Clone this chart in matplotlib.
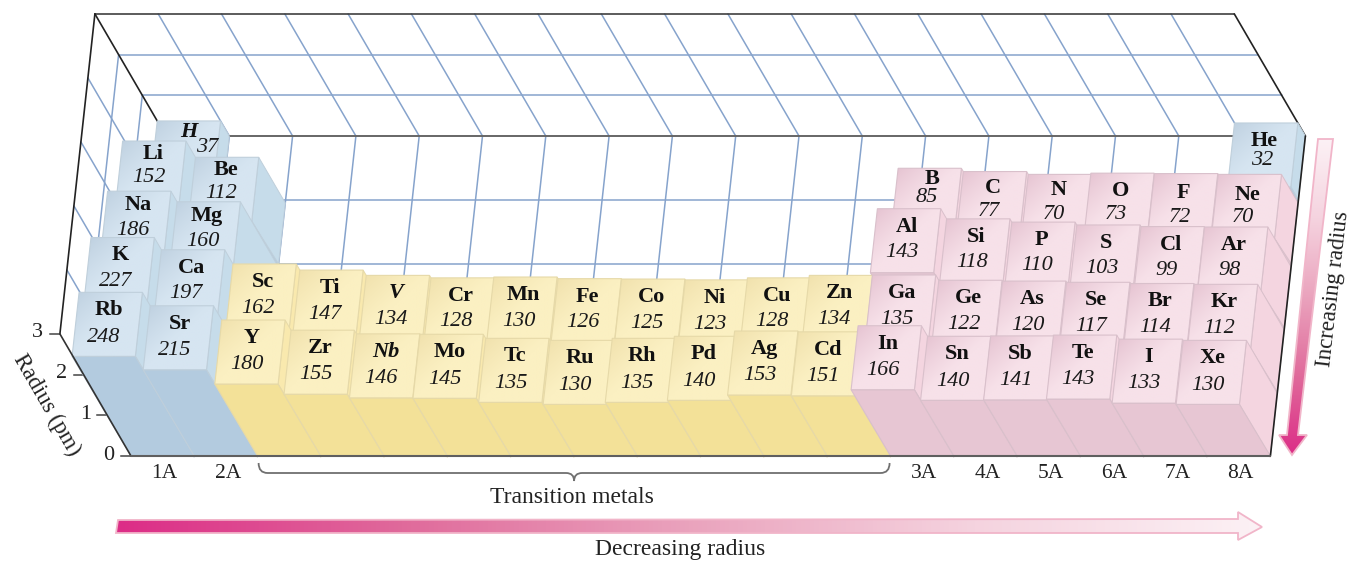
import numpy as np
import matplotlib
matplotlib.use("Agg")
import matplotlib.pyplot as plt
from matplotlib.colors import LinearSegmentedColormap, to_rgb
from matplotlib.patches import Polygon, PathPatch
from matplotlib.path import Path

# ---------- data ----------
group_labels = ['1A', '2A', '3A', '4A', '5A', '6A', '7A', '8A']
group_columns = [0, 1, 12, 13, 14, 15, 16, 17]
radius_ticks = [0, 1, 2, 3]

period1_symbols = ['H', 'He']
period1_columns = [0, 17]
period1_radii = [37, 32]

period2_symbols = ['Li', 'Be', 'B', 'C', 'N', 'O', 'F', 'Ne']
period2_columns = [0, 1, 12, 13, 14, 15, 16, 17]
period2_radii = [152, 112, 85, 77, 70, 73, 72, 70]

period3_symbols = ['Na', 'Mg', 'Al', 'Si', 'P', 'S', 'Cl', 'Ar']
period3_columns = [0, 1, 12, 13, 14, 15, 16, 17]
period3_radii = [186, 160, 143, 118, 110, 103, 99, 98]

period4_symbols = ['K', 'Ca', 'Sc', 'Ti', 'V', 'Cr', 'Mn', 'Fe', 'Co', 'Ni', 'Cu', 'Zn',
                   'Ga', 'Ge', 'As', 'Se', 'Br', 'Kr']
period4_radii = [227, 197, 162, 147, 134, 128, 130, 126, 125, 123, 128, 134,
                 135, 122, 120, 117, 114, 112]

period5_symbols = ['Rb', 'Sr', 'Y', 'Zr', 'Nb', 'Mo', 'Tc', 'Ru', 'Rh', 'Pd', 'Ag', 'Cd',
                   'In', 'Sn', 'Sb', 'Te', 'I', 'Xe']
period5_radii = [248, 215, 180, 155, 146, 145, 135, 130, 135, 140, 153, 151,
                 166, 140, 141, 143, 133, 130]

periods = [
    (period1_symbols, period1_columns, period1_radii),
    (period2_symbols, period2_columns, period2_radii),
    (period3_symbols, period3_columns, period3_radii),
    (period4_symbols, list(range(18)), period4_radii),
    (period5_symbols, list(range(18)), period5_radii),
]
italic_symbols = {'H', 'V', 'Nb'}

# ---------- projection: column, row, radius (in 100 pm) -> picture ----------
ORIGIN = np.array([131.0, 456.0])
COL = np.array([63.3, 0.0])
ROW = np.array([-7.0, 64.0])
RAD = np.array([-23.7, -40.7])
NCOL, NROW, RMAX = 18, 5, 3

row_shift = [0.0, 0.045, 0.045, 0.03, 0.02]     # blocks sit a little lower than the grid
symbol_v = [0.17, 0.20, 0.22, 0.28, 0.28]
value_v = [0.50, 0.57, 0.62, 0.69, 0.70]
pink_extra = [0.0, 0.05, 0.06, 0.0, 0.0]
label_override = {
    'H': ((0.52, 0.17), (0.83, 0.42)),
    'He': ((0.50, 0.28), (0.50, 0.58)),
    'B': ((0.55, 0.16), (0.50, 0.45)),
    'O': ((0.50, 0.28), (0.47, 0.65)),
    'F': ((0.50, 0.31), (0.47, 0.68)),
    'Ne': ((0.50, 0.325), (0.47, 0.68)),
}


def P(c, r, h=0.0):
    return ORIGIN + c * COL + (r - NROW) * ROW + h * RAD


plt.rcParams['font.family'] = ['Liberation Serif', 'DejaVu Serif']
fig = plt.figure(figsize=(13.52, 5.61), dpi=100)
ax = fig.add_axes([0, 0, 1, 1])
ax.set_xlim(0, 1352)
ax.set_ylim(561, 0)
ax.axis('off')

GRID = '#86a3cc'
FRAME = '#3f3f3f'


def line(a, b, color=GRID, lw=1.1, z=2):
    ax.plot([a[0], b[0]], [a[1], b[1]], color=color, lw=lw, zorder=z, solid_capstyle='round')


# grid on back wall, floor, left wall
for c in range(1, NCOL):
    line(P(c, 0, RMAX), P(c, 0, 0))
    line(P(c, 0, 0), P(c, NROW, 0))
for h in (1, 2):
    line(P(0, 0, h), P(NCOL, 0, h))
    line(P(0, 0, h), P(0, NROW, h))
for r in range(1, NROW):
    line(P(0, r, 0), P(NCOL, r, 0))
    line(P(0, r, RMAX), P(0, r, 0))

# frame
line(P(0, 0, RMAX), P(NCOL, 0, RMAX), FRAME, 1.2, 3)
line(P(0, 0, RMAX), P(0, NROW, RMAX), '#222222', 1.2, 3)
line(P(0, 0, RMAX), P(0, 0, 0), '#222222', 1.2, 3)
line(P(0, 0, 0), P(NCOL, 0, 0), '#666666', 1.4, 3)
line(P(NCOL, 0, RMAX), P(NCOL, 0, 0), '#222222', 1.2, 3)

# colours: (face dark corner, face light, side, front, edge)
BLUE = ('#bccede', '#d6e5f1', '#c6dcea', '#b3cbdf', '#bfcfdb')
YELLOW = ('#efdfaa', '#fbf0c2', '#f9e9ae', '#f3e198', '#e6d9a8')
PINK = ('#e3bfce', '#f7e1e9', '#f4d5e0', '#e7c6d3', '#d9c0cb')


def palette(sym, c):
    if c < 2 or sym == 'He':
        return BLUE
    return YELLOW if c < 12 else PINK


def gradient_face(pts, dark, light, z):
    poly = Polygon(pts, closed=True, transform=ax.transData, fc='none', ec='none')
    ax.add_patch(poly)
    n = 40
    yy, xx = np.mgrid[0:1:n * 1j, 0:1:n * 1j]
    t = np.clip((xx + yy) / 0.95, 0, 1)[..., None] ** 0.8
    img = (1 - t) * np.array(to_rgb(dark)) + t * np.array(to_rgb(light))
    x0, x1 = pts[:, 0].min(), pts[:, 0].max()
    y0, y1 = pts[:, 1].min(), pts[:, 1].max()
    im = ax.imshow(img, extent=(x0, x1, y1, y0), aspect='auto', zorder=z, interpolation='bilinear')
    im.set_clip_path(poly)


z = 10.0
for row, (symbols, columns, radii) in enumerate(periods):
    for sym, c, val in zip(symbols, columns, radii):
        h = val / 100
        dark, light, side, front, edge = palette(sym, c)
        r = row + row_shift[row]
        ax.add_patch(Polygon([P(c + 1, r, h), P(c + 1, r + 1, h), P(c + 1, r + 1), P(c + 1, r)],
                             fc=side, ec=edge, lw=0.7, zorder=z))
        ax.add_patch(Polygon([P(c, r + 1, h), P(c + 1, r + 1, h), P(c + 1, row + 1), P(c, row + 1)],
                             fc=front, ec=edge, lw=0.8, zorder=z + .1))
        pts = np.array([P(c, r, h), P(c + 1, r, h), P(c + 1, r + 1, h), P(c, r + 1, h)])
        gradient_face(pts, dark, light, z + .2)
        ax.add_patch(Polygon(pts, fc='none', ec=edge, lw=0.8, zorder=z + .3))
        extra = pink_extra[row] if c >= 12 else 0.0
        (su, sv), (vu, vv) = label_override.get(
            sym, ((0.5, symbol_v[row] + extra), (0.47, value_v[row] + extra)))
        s = P(c + su, r + sv, h)
        v = P(c + vu, r + vv, h)
        ax.text(s[0], s[1], sym, ha='center', va='center', fontsize=16, fontweight='bold',
                style='italic' if sym in italic_symbols else 'normal', color='#111111', zorder=z + .4)
        ax.text(v[0], v[1], str(val), ha='center', va='center', fontsize=16, style='italic',
                color='#1a1a1a', zorder=z + .4)
        z += 1

# frame lines that lie over the blocks
line(P(0, NROW, RMAX), P(0, NROW, 0), '#333333', 1.2, 95)
line(P(NCOL, 0, 0), P(NCOL, NROW, 0), '#222222', 1.2, 95)
line(P(0, NROW, 0), P(NCOL, NROW, 0), '#5f5f5f', 1.5, 96)

# radius axis ticks
for t in radius_ticks:
    p = P(0, NROW, t)
    ax.plot([p[0] - 10, p[0]], [p[1], p[1]], color='#444444', lw=1.1, zorder=5)
    ax.text(p[0] - 22, p[1] - 1, str(t), ha='center', va='center', fontsize=16, color='#222222')
ax.text(47, 405, 'Radius (pm)', rotation=-60, rotation_mode='anchor', ha='center', va='center',
        fontsize=16.5, color='#222222')

# group labels
for lab, c in zip(group_labels, group_columns):
    p = P(c + .5, NROW)
    ax.text(p[0] + 2, 473, lab, ha='center', va='center', fontsize=15.5, color='#222222')

# brace under the transition metals
b0, b1 = P(2, NROW)[0] + 1, P(12, NROW)[0] - 1
mid = (b0 + b1) / 2
verts = [(b0, 463), (b0, 473), (b0 + 9, 473), (mid - 8, 473), (mid, 473), (mid, 481),
         (mid, 473), (mid + 8, 473), (b1 - 9, 473), (b1, 473), (b1, 463)]
codes = [Path.MOVETO, Path.CURVE3, Path.CURVE3, Path.LINETO, Path.CURVE3, Path.CURVE3,
         Path.CURVE3, Path.CURVE3, Path.LINETO, Path.CURVE3, Path.CURVE3]
ax.add_patch(PathPatch(Path(verts, codes), fc='none', ec='#707070', lw=1.3, zorder=5))
ax.text(572, 497, 'Transition metals', ha='center', va='center', fontsize=17, color='#222222')

# gradient arrows
arrow_cmap = LinearSegmentedColormap.from_list('a', ['#dc2d87', '#e06a9b', '#eaa3bd', '#f5d3df', '#fcf1f5'])


def gradient_arrow(pts, horizontal):
    pts = np.array(pts, float)
    poly = Polygon(pts, fc='none', ec='#f1b5c9', lw=1.3, zorder=6)
    ax.add_patch(poly)
    g = np.linspace(0, 1, 256)
    g = g[None, :] if horizontal else g[::-1, None]
    x0, x1 = pts[:, 0].min(), pts[:, 0].max()
    y0, y1 = pts[:, 1].min(), pts[:, 1].max()
    im = ax.imshow(g, extent=(x0, x1, y1, y0), aspect='auto', cmap=arrow_cmap, zorder=5)
    im.set_clip_path(poly)


gradient_arrow([(118, 520), (1238, 519), (1238, 512), (1262, 527), (1238, 540), (1238, 533), (116, 533)], True)
gradient_arrow([(1318, 139), (1333, 139), (1298, 435), (1307, 435), (1292, 455), (1279, 435), (1287, 435)], False)

ax.text(680, 550, 'Decreasing radius', ha='center', va='center', fontsize=17, color='#222222')
ax.text(1333, 289, 'Increasing radius', rotation=83.5, rotation_mode='anchor', ha='center', va='center',
        fontsize=16.5, color='#222222', zorder=7)

ax.set_xlim(0, 1352)
ax.set_ylim(561, 0)
fig.savefig('out.png', dpi=100)
